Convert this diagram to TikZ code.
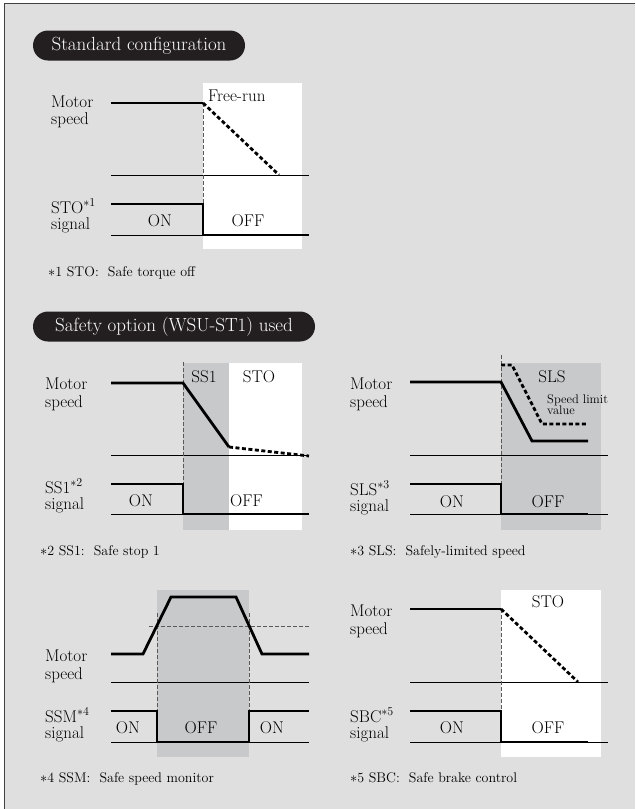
\documentclass[tikz,border=0pt]{standalone}
\usepackage{amsmath}
\usetikzlibrary{positioning}

\definecolor{framegray}{RGB}{222,223,222}
\definecolor{shadegray}{RGB}{200,201,202}
\definecolor{pillblack}{RGB}{35,31,32}

\tikzset{
  wave/.style={line width=2.8pt, line join=miter},
  wavedash/.style={line width=2.8pt, dash pattern=on 4pt off 2.5pt},
  axisline/.style={line width=0.8pt},
  guide/.style={line width=0.7pt, black!65, dash pattern=on 4pt off 2pt},
  txt/.style={inner sep=0pt, anchor=base west, font=\fontsize{17}{18}\selectfont},
  ctxt/.style={txt, anchor=base},
  smalltxt/.style={inner sep=0pt, anchor=base west, font=\fontsize{12.5}{12}\selectfont},
  note/.style={inner sep=0pt, anchor=base west, font=\fontsize{14}{15}\selectfont},
  pill/.style={fill=pillblack, text=white, rounded corners=15pt, minimum height=30pt,
    inner sep=0pt, font=\fontsize{19}{20}\selectfont}
}

\begin{document}
\begin{tikzpicture}[x=1pt, y=-1pt]
  \useasboundingbox (0,0) rectangle (635,809);
  \fill[framegray] (4,3) rectangle (635,809);
  \draw[line width=1pt, black!75] (4,809) -- (4,3) -- (635,3);

  \node[pill, minimum width=212pt] (stdtitle) at (139,45.5) {Standard configuration};
  \node[pill, minimum width=282pt] (opttitle) at (174,326.5) {Safety option (WSU-ST1) used};

  % standard configuration
  \begin{scope}[shift={(111,103)}, name prefix=std-]
    \fill[white] (92,-20) rectangle (191,146);
    \node[txt] (motor) at (-60,4) {Motor};
    \node[txt] (speed) at (-60,21) {speed};
    \node[txt] (name) at (-60,110) {STO$^{*1}$};
    \node[txt] (signal) at (-60,126) {signal};
    \node[ctxt] (on) at (49,123) {ON};
    \node[ctxt] (off) at (137,123) {OFF};
    \node[txt] (freerun) at (97,-2) {Free-run};
    \node[note] (fn) at (-63,173) {$*$1 STO:\ \ Safe torque off};
    \draw[axisline] (0,72) -- (198,72);
    \draw[axisline] (0,132) -- (198,132);
    \draw[guide] (92,0) -- (92,101);
    \draw[wave] (0,0) -- (92,0);
    \draw[wavedash] (92,0) -- (168,72);
    \draw[wave] (0,101) -- (92,101) -- (92,132) -- (198,132);
  \end{scope}

  % SS1
  \begin{scope}[shift={(111,383)}, name prefix=ss1-]
    \fill[shadegray] (72,-20) rectangle (118,147);
    \fill[white] (118,-20) rectangle (191,147);
    \node[txt] (motor) at (-66,6) {Motor};
    \node[txt] (speed) at (-66,24) {speed};
    \node[txt] (name) at (-66,110) {SS1$^{*2}$};
    \node[txt] (signal) at (-66,126) {signal};
    \node[ctxt] (on) at (30,123) {ON};
    \node[txt] (off) at (119,123) {OFF};
    \node[ctxt] (ss1) at (93,-1) {SS1};
    \node[ctxt] (sto) at (148,-1) {STO};
    \node[note] (fn) at (-71,172) {$*$2 SS1:\ \ Safe stop 1};
    \draw[axisline] (0,72) -- (198,72);
    \draw[axisline] (0,131) -- (198,131);
    \draw[guide] (72,-21) -- (72,101);
    \draw[wave] (0,0) -- (72,0) -- (118,64);
    \draw[wavedash] (118,64) -- (198,73);
    \draw[wave] (0,101) -- (72,101) -- (72,131) -- (198,131);
  \end{scope}

  % SLS
  \begin{scope}[shift={(410,382)}, name prefix=sls-]
    \fill[shadegray] (91,-19) rectangle (191,148);
    \node[txt] (motor) at (-60,7) {Motor};
    \node[txt] (speed) at (-60,25) {speed};
    \node[txt] (name) at (-60,113) {SLS$^{*3}$};
    \node[txt] (signal) at (-60,129) {signal};
    \node[ctxt] (on) at (42,125) {ON};
    \node[ctxt] (off) at (138,125) {OFF};
    \node[ctxt] (sls) at (142,0) {SLS};
    \node[smalltxt] (limit) at (137,21) {Speed limit};
    \node[smalltxt] (value) at (137,32) {value};
    \node[note] (fn) at (-60,173) {$*$3 SLS:\ \ Safely-limited speed};
    \draw[axisline] (0,73) -- (198,73);
    \draw[axisline] (0,132) -- (198,132);
    \draw[guide] (91,-27) -- (91,102);
    \draw[wave] (0,0) -- (91,0) -- (122,59) -- (178,59);
    \draw[wavedash] (91,-17) -- (102,-17) -- (132,42) -- (178,42);
    \draw[wave] (0,102) -- (91,102) -- (91,132) -- (178,132);
  \end{scope}

  % SSM
  \begin{scope}[shift={(111,610)}, name prefix=ssm-]
    \fill[shadegray] (46,-20) rectangle (138,147);
    \node[txt] (motor) at (-66,51) {Motor};
    \node[txt] (speed) at (-66,69) {speed};
    \node[txt] (name) at (-66,112) {SSM$^{*4}$};
    \node[txt] (signal) at (-66,128) {signal};
    \node[ctxt] (onleft) at (17,123) {ON};
    \node[ctxt] (off) at (90,123) {OFF};
    \node[ctxt] (onright) at (161,123) {ON};
    \node[note] (fn) at (-71,172) {$*$4 SSM:\ \ Safe speed monitor};
    \draw[axisline] (0,72) -- (198,72);
    \draw[axisline] (0,132) -- (198,132);
    \draw[guide] (38,16) -- (199,16);
    \draw[guide] (46,3) -- (46,101);
    \draw[guide] (138,3) -- (138,101);
    \draw[wave] (0,44) -- (32,44) -- (60,-13) -- (125,-13) -- (151,44) -- (198,44);
    \draw[wave] (0,101) -- (46,101) -- (46,132) -- (138,132) -- (138,101) -- (198,101);
  \end{scope}

  % SBC
  \begin{scope}[shift={(410,609)}, name prefix=sbc-]
    \fill[white] (91,-19) rectangle (191,148);
    \node[txt] (motor) at (-60,7) {Motor};
    \node[txt] (speed) at (-60,25) {speed};
    \node[txt] (name) at (-60,113) {SBC$^{*5}$};
    \node[txt] (signal) at (-60,129) {signal};
    \node[ctxt] (on) at (42,124) {ON};
    \node[ctxt] (off) at (138,124) {OFF};
    \node[ctxt] (sto) at (138,-2) {STO};
    \node[note] (fn) at (-60,173) {$*$5 SBC:\ \ Safe brake control};
    \draw[axisline] (0,73) -- (198,73);
    \draw[axisline] (0,133) -- (198,133);
    \draw[guide] (91,0) -- (91,102);
    \draw[wave] (0,0) -- (91,0);
    \draw[wavedash] (91,0) -- (168,73);
    \draw[wave] (0,102) -- (91,102) -- (91,133) -- (178,133);
  \end{scope}
\end{tikzpicture}
\end{document}
